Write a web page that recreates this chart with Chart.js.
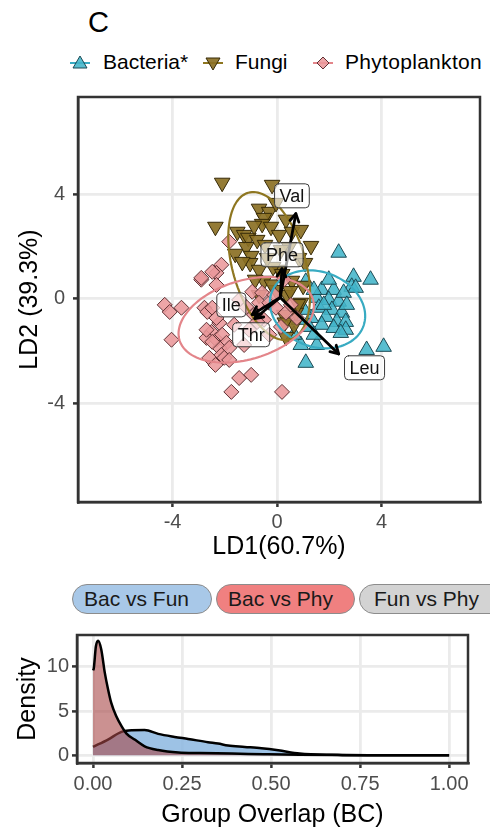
<!DOCTYPE html>
<html><head><meta charset="utf-8">
<script src="https://cdn.jsdelivr.net/npm/chart.js@4.4.0/dist/chart.umd.min.js"></script>
<style>
html,body{margin:0;padding:0;background:#fff}
body{width:490px;height:835px;position:relative;overflow:hidden;font-family:"Liberation Sans",Arial,sans-serif;color:#000}
#ldaWrap{position:absolute;left:0;top:0;width:490px;height:570px}
#denWrap{position:absolute;left:0;top:620px;width:490px;height:215px}
.panelTitle{position:absolute;left:88px;top:4px;font-size:29px;line-height:36px}
.legTxt{position:absolute;top:49px;font-size:21px;line-height:26px;white-space:nowrap}
#legSvg{position:absolute;left:0;top:50px}
.pill{position:absolute;top:584px;height:28px;border:1px solid #8c8c8c;border-radius:15px;font-size:21px;line-height:28px;white-space:nowrap;color:#1a1a1a;box-sizing:content-box}
</style>
</head><body>
<div class="panelTitle">C</div>
<svg id="legSvg" width="490" height="26"></svg>
<div class="legTxt" style="left:103px">Bacteria*</div>
<div class="legTxt" style="left:235px">Fungi</div>
<div class="legTxt" style="left:345px;letter-spacing:0.3px">Phytoplankton</div>
<div id="ldaWrap"><canvas id="lda" width="490" height="570"></canvas></div>
<div class="pill" style="left:72px;width:127px;padding-left:11px;background:#a8c8e8">Bac vs Fun</div>
<div class="pill" style="left:216px;width:126px;padding-left:11px;background:#f08080">Bac vs Phy</div>
<div class="pill" style="left:359px;width:140px;padding-left:14px;background:#d3d3d3">Fun vs Phy</div>
<div id="denWrap"><canvas id="den" width="490" height="215"></canvas></div>
<script>
// ---------- data: LDA scores ----------
const groupNames = ['Bacteria*', 'Fungi', 'Phytoplankton'];
const bacX = [2.36, 2.93, 3.58, 2.86, 1.10, 1.71, 2.17, 1.52, 1.98, 2.36, 1.60, 2.10, 2.48, 1.87, 1.30, 2.29, 2.63, 1.71, 2.17, 1.22, 2.63, 2.44, 1.52, 1.10, 3.43, 4.08, 0.91, 3.01, 2.55, 1.41, 1.79, 1.03, 0.84, 1.98, 2.67, 1.41, 0.65];
const bacY = [1.76, 0.84, 0.73, 0.46, 0.65, 0.34, 0.34, 0.04, -0.04, -0.11, -0.34, -0.42, -0.53, -0.69, -0.73, -0.88, -0.88, -0.99, -1.11, -1.07, -1.18, -1.30, -1.76, -2.44, -1.95, -1.83, -1.76, 0.42, 0.23, 0.34, -0.23, -0.42, -0.80, 0.73, -0.23, -1.37, -1.37];
const funX = [-2.10, -0.19, -2.36, -0.69, -0.30, -0.50, -0.57, -0.23, 0.34, -1.52, -1.26, -1.10, -1.60, -1.18, -0.99, -1.03, -0.69, 0.08, 0.46, 1.30, 0.84, 1.07, -0.50, 0.57, 0.91, -0.69, 0.72, 0.34, -0.15, -0.76, 0.08, 0.15, -0.46, 0.57, -0.04, 0.38, -0.84, 0.65, 0.27, -1.33, -0.38, -0.88, -0.04, 0.91, 0.50, 0.80, 0.30, 1.00, -0.20, 0.20];
const funY = [4.43, 4.35, 2.75, 3.44, 3.32, 3.09, 2.86, 2.75, 3.02, 2.56, 2.44, 2.33, 1.72, 1.98, 1.64, 1.37, 1.11, 1.11, 1.98, 2.02, 1.56, 1.37, 0.69, 0.69, -0.15, 0.15, -0.53, -1.45, 1.22, 2.25, 2.44, 1.87, 2.06, 2.56, 0.34, 0.15, 0.73, -0.99, -0.61, 1.41, 1.56, 2.79, 3.66, 2.63, 0.30, -0.20, -0.90, 0.50, 0.55, 0.95];
const phyX = [-2.13, -2.32, -2.90, -2.32, -4.30, -4.11, -3.66, -2.78, -2.67, -4.04, -2.21, -2.51, -2.70, -2.32, -2.10, -1.94, -2.21, -2.59, -2.13, -2.02, -1.45, -0.99, -1.75, 0.19, -0.95, -0.57, -1.18, -0.69, -0.30, -0.04, 0.34, 0.15, -2.48, -2.32, -2.70, -2.48, -1.83, -2.48, -2.90, -1.45, -0.88, -0.50, -0.11, 0.53, 0.76, -0.30, -1.26, -1.64, -1.07, 0.27, -1.83, -2.36, -1.83, -0.76];
const phyY = [1.30, 0.99, 0.73, 0.53, -0.23, -0.50, -0.34, -0.34, -0.50, -1.56, -0.92, -1.26, -1.49, -1.56, -1.37, -1.68, -1.87, -2.25, -2.14, -2.25, -3.02, -2.90, -3.55, -3.55, 0.27, 0.23, -0.31, -0.15, -0.15, -0.34, -0.53, -1.07, -0.34, -0.73, -1.18, -1.64, 2.18, 1.03, 0.80, -0.04, -0.61, -0.80, 0.15, -0.23, -0.73, -1.37, -1.76, -0.99, -1.18, 0.73, -1.87, -2.52, -2.33, -0.88];

// ---------- data: 95% ellipses (centre, semi-axes, angle in degrees) ----------
const ellCX = [1.55, -0.30, -1.18];
const ellCY = [-0.40, 1.25, -0.80];
const ellA = [1.87, 2.91, 2.67];
const ellB = [1.43, 1.40, 1.50];
const ellAngle = [-20, 106, 17];

// ---------- data: loadings (arrows) ----------
const loadNames = ['Val', 'Phe', 'Ile', 'Thr', 'Leu'];
const loadX = [0.72, 0.19, -0.95, -0.85, 2.36];
const loadY = [3.25, 1.15, -0.60, -0.75, -2.10];
const loadLabelX = [0.57, 0.19, -1.75, -0.99, 3.35];
const loadLabelY = [3.93, 1.68, -0.23, -1.37, -2.63];
const arrowOriginX = [0.12];
const arrowOriginY = [0.05];

const ldTicks = [-4, 0, 4];

// ---------- data: density of group overlap ----------
const bacPhyX = [0, 0.002, 0.008, 0.014, 0.023, 0.033, 0.042, 0.051, 0.065, 0.08, 0.094, 0.117, 0.145, 0.183, 0.24, 0.30, 0.39, 0.48, 0.58, 0.70, 0.85, 1.0];
const bacPhyY = [9.6, 9.8, 12.3, 12.95, 12.0, 9.35, 7.5, 5.95, 4.43, 3.3, 2.46, 1.78, 1.02, 0.6, 0.32, 0.26, 0.2, 0.12, 0.05, 0.02, 0.01, 0.0];
const bacFunX = [0, 0.042, 0.08, 0.10, 0.145, 0.183, 0.229, 0.267, 0.323, 0.351, 0.379, 0.426, 0.473, 0.52, 0.58, 0.67, 0.80, 1.0];
const bacFunY = [0.95, 1.78, 2.65, 2.8, 2.85, 2.42, 2.08, 1.85, 1.48, 1.33, 1.1, 0.95, 0.8, 0.57, 0.2, 0.05, 0.01, 0.0];
const overlapTicks = [0, 0.25, 0.5, 0.75, 1.0];
const densityTicks = [0, 5, 10];

// ---------- colours ----------
const FONT = '"Liberation Sans", Arial, sans-serif';
const groupFill = ['rgba(66,181,202,0.88)', 'rgba(139,112,36,0.92)', 'rgba(234,152,155,0.88)'];
const groupEdge = ['#1c4a54', '#362a08', '#5e3033'];
const groupLine = ['#38abc2', '#8e7620', '#e3858a'];

// legend markers (svg)
(function(){
  const svg = document.getElementById('legSvg');
  const ns = 'http://www.w3.org/2000/svg';
  const items = [[80, 'tri'], [213, 'inv'], [323, 'dia']];
  items.forEach((it, i) => {
    const cx = it[0], cy = 13;
    const ln = document.createElementNS(ns, 'line');
    ln.setAttribute('x1', cx - 10); ln.setAttribute('x2', cx + 10);
    ln.setAttribute('y1', cy); ln.setAttribute('y2', cy);
    ln.setAttribute('stroke', groupLine[i]); ln.setAttribute('stroke-width', 2);
    svg.appendChild(ln);
    const p = document.createElementNS(ns, 'polygon');
    let pts;
    if (it[1] === 'tri') pts = [[cx, cy - 7], [cx + 7, cy + 5], [cx - 7, cy + 5]];
    else if (it[1] === 'inv') pts = [[cx, cy + 7], [cx + 7, cy - 5], [cx - 7, cy - 5]];
    else pts = [[cx, cy - 6], [cx + 6, cy], [cx, cy + 6], [cx - 6, cy]];
    p.setAttribute('points', pts.map(q => q.join(',')).join(' '));
    p.setAttribute('fill', groupFill[i]); p.setAttribute('stroke', groupEdge[i]); p.setAttribute('stroke-width', 1);
    svg.appendChild(p);
  });
})();

const toPts = (xs, ys) => xs.map((v, i) => ({x: v, y: ys[i]}));

const panelBorder = {
  id: 'panelBorder',
  afterDraw(chart) {
    const {ctx, chartArea: a} = chart;
    ctx.save();
    ctx.strokeStyle = '#333333';
    ctx.lineWidth = 2.5;
    ctx.strokeRect(a.left, a.top, a.right - a.left, a.bottom - a.top);
    ctx.restore();
  }
};

const ldaOverlay = {
  id: 'ldaOverlay',
  afterDatasetsDraw(chart) {
    const {ctx, scales: {x, y}, chartArea: a} = chart;
    ctx.save();
    ctx.beginPath();
    ctx.rect(a.left, a.top, a.right - a.left, a.bottom - a.top);
    ctx.clip();
    // ellipses
    for (let g = 0; g < ellCX.length; g++) {
      const th = ellAngle[g] * Math.PI / 180;
      ctx.beginPath();
      for (let k = 0; k <= 120; k++) {
        const t = k / 120 * 2 * Math.PI;
        const ex = ellCX[g] + ellA[g] * Math.cos(t) * Math.cos(th) - ellB[g] * Math.sin(t) * Math.sin(th);
        const ey = ellCY[g] + ellA[g] * Math.cos(t) * Math.sin(th) + ellB[g] * Math.sin(t) * Math.cos(th);
        const px = x.getPixelForValue(ex), py = y.getPixelForValue(ey);
        if (k === 0) ctx.moveTo(px, py); else ctx.lineTo(px, py);
      }
      ctx.strokeStyle = groupLine[g];
      ctx.lineWidth = 2.2;
      ctx.stroke();
    }
    // arrows
    const ox = x.getPixelForValue(arrowOriginX[0]), oy = y.getPixelForValue(arrowOriginY[0]);
    ctx.strokeStyle = '#000';
    ctx.lineWidth = 2.8;
    ctx.lineCap = 'round';
    ctx.lineJoin = 'round';
    for (let i = 0; i < loadNames.length; i++) {
      const tx = x.getPixelForValue(loadX[i]), ty = y.getPixelForValue(loadY[i]);
      ctx.beginPath();
      ctx.moveTo(ox, oy); ctx.lineTo(tx, ty);
      ctx.stroke();
      const ang = Math.atan2(ty - oy, tx - ox);
      const L = 9, spread = Math.PI / 6;
      ctx.beginPath();
      ctx.moveTo(tx - L * Math.cos(ang - spread), ty - L * Math.sin(ang - spread));
      ctx.lineTo(tx, ty);
      ctx.lineTo(tx - L * Math.cos(ang + spread), ty - L * Math.sin(ang + spread));
      ctx.stroke();
    }
    // labels
    ctx.font = '18px ' + FONT;
    ctx.textAlign = 'center';
    ctx.textBaseline = 'middle';
    for (let i = 0; i < loadNames.length; i++) {
      const cx = x.getPixelForValue(loadLabelX[i]), cy = y.getPixelForValue(loadLabelY[i]);
      const w = ctx.measureText(loadNames[i]).width + 10, h = 24;
      ctx.beginPath();
      ctx.roundRect(cx - w / 2, cy - h / 2, w, h, 4);
      ctx.fillStyle = 'rgba(255,255,255,0.62)';
      ctx.fill();
      ctx.lineWidth = 1;
      ctx.strokeStyle = '#3a3a3a';
      ctx.stroke();
      ctx.fillStyle = '#111';
      ctx.fillText(loadNames[i], cx, cy + 1);
    }
    ctx.restore();
  }
};

const tickFont = {family: FONT, size: 20};
const titleFont = {family: FONT, size: 25};

new Chart(document.getElementById('lda'), {
  type: 'scatter',
  data: {
    datasets: [
      {label: groupNames[0], data: toPts(bacX, bacY), pointStyle: 'triangle', pointRadius: 9, pointRotation: 0,
       backgroundColor: groupFill[0], borderColor: groupEdge[0], borderWidth: 1, order: 3},
      {label: groupNames[1], data: toPts(funX, funY), pointStyle: 'triangle', pointRadius: 9, pointRotation: 180,
       backgroundColor: groupFill[1], borderColor: groupEdge[1], borderWidth: 1, order: 2},
      {label: groupNames[2], data: toPts(phyX, phyY), pointStyle: 'rectRot', pointRadius: 7.5,
       backgroundColor: groupFill[2], borderColor: groupEdge[2], borderWidth: 1, order: 1}
    ]
  },
  options: {
    responsive: false, animation: false, events: [],
    layout: {padding: {top: 97, right: 8, left: 0, bottom: 0}},
    plugins: {legend: {display: false}, tooltip: {enabled: false}, title: {display: false}},
    scales: {
      x: {
        type: 'linear', min: -7.62, max: 7.77,
        afterBuildTicks: s => { s.ticks = ldTicks.map(v => ({value: v})); },
        afterFit: s => { s.height = 68; },
        ticks: {color: '#4d4d4d', font: tickFont, padding: 3, callback: v => String(v)},
        grid: {color: '#ebebeb', lineWidth: 2.8, tickColor: '#333333', tickWidth: 2.5, tickLength: 5},
        border: {display: true, color: '#333333', width: 2.5},
        title: {display: true, text: 'LD1(60.7%)', color: '#000', font: titleFont, padding: {top: 0, bottom: 8}}
      },
      y: {
        type: 'linear', min: -7.75, max: 7.7,
        afterBuildTicks: s => { s.ticks = ldTicks.map(v => ({value: v})); },
        afterFit: s => { s.width = 78; },
        ticks: {color: '#4d4d4d', font: tickFont, padding: 8, callback: v => String(v)},
        grid: {color: '#ebebeb', lineWidth: 2.8, tickColor: '#333333', tickWidth: 2.5, tickLength: 5},
        border: {display: true, color: '#333333', width: 2.5},
        title: {display: true, text: 'LD2 (39.3%)', color: '#000', font: titleFont, padding: {top: 15, bottom: 0}}
      }
    }
  },
  plugins: [ldaOverlay, panelBorder]
});

new Chart(document.getElementById('den'), {
  type: 'scatter',
  data: {
    datasets: [
      {label: 'Bac vs Phy', data: toPts(bacPhyX, bacPhyY), showLine: true, fill: 'origin',
       backgroundColor: 'rgba(168,72,72,0.6)', borderColor: '#000', borderWidth: 2.5,
       pointRadius: 0, cubicInterpolationMode: 'monotone', order: 1},
      {label: 'Bac vs Fun', data: toPts(bacFunX, bacFunY), showLine: true, fill: 'origin',
       backgroundColor: 'rgba(140,183,224,0.85)', borderColor: '#000', borderWidth: 2.5,
       pointRadius: 0, cubicInterpolationMode: 'monotone', order: 2}
    ]
  },
  options: {
    responsive: false, animation: false, events: [],
    layout: {padding: {top: 15, right: 22, left: 0, bottom: 0}},
    plugins: {legend: {display: false}, tooltip: {enabled: false}, filler: {propagate: false}},
    scales: {
      x: {
        type: 'linear', min: -0.045, max: 1.053,
        afterBuildTicks: s => { s.ticks = overlapTicks.map(v => ({value: v})); },
        afterFit: s => { s.height = 72; },
        ticks: {color: '#4d4d4d', font: tickFont, padding: 4, callback: v => Number(v).toFixed(2)},
        grid: {color: '#ebebeb', lineWidth: 2.8, tickColor: '#333333', tickWidth: 2.5, tickLength: 5},
        border: {display: true, color: '#333333', width: 2.5},
        title: {display: true, text: 'Group Overlap (BC)', color: '#000', font: titleFont, padding: {top: 0, bottom: 5}}
      },
      y: {
        type: 'linear', min: -0.87, max: 13.6,
        afterBuildTicks: s => { s.ticks = densityTicks.map(v => ({value: v})); },
        afterFit: s => { s.width = 77; },
        ticks: {color: '#4d4d4d', font: tickFont, padding: 3, callback: v => String(v)},
        grid: {color: '#ebebeb', lineWidth: 2.8, tickColor: '#333333', tickWidth: 2.5, tickLength: 5},
        border: {display: true, color: '#333333', width: 2.5},
        title: {display: true, text: 'Density', color: '#000', font: titleFont, padding: {top: 13, bottom: 0}}
      }
    }
  },
  plugins: [panelBorder]
});
</script>
</body></html>
